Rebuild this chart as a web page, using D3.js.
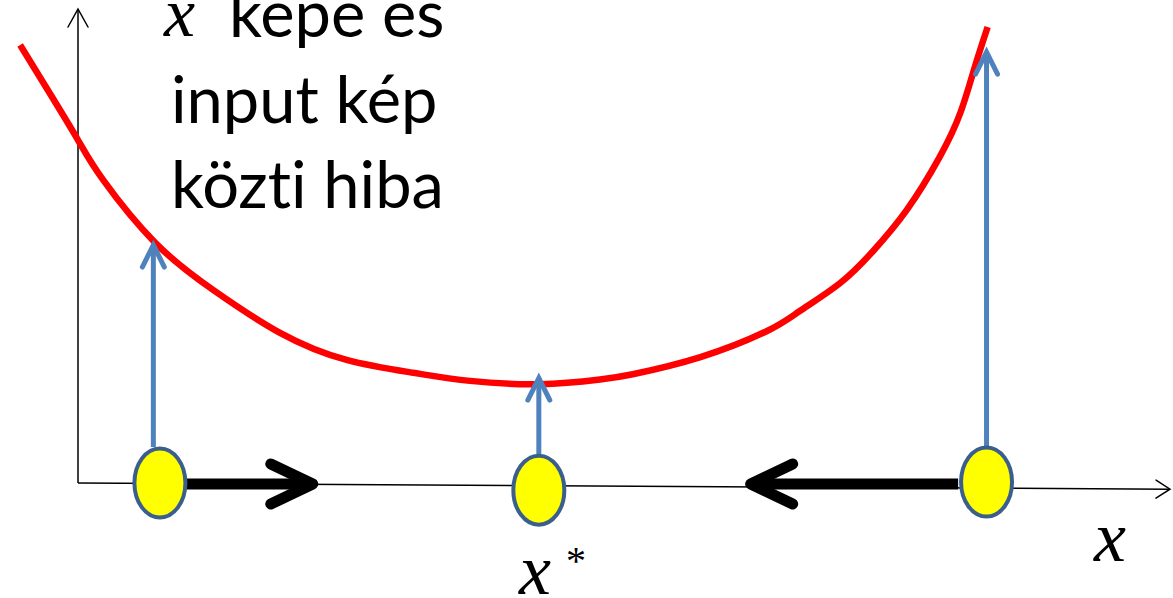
<!DOCTYPE html>
<html lang="hu">
<head>
<meta charset="UTF-8">
<title>hiba</title>
<script src="https://d3js.org/d3.v7.min.js"></script>
<style>
    body { margin: 0; background: #fff; }
    svg { display: block; }
    .lbl { font-variant-ligatures: none; font-feature-settings: "liga" 0; }
</style>
</head>
<body>
<div id="graph"></div>
<script>
// error curve (arbitrary units, x: 0..10 along the axis, y: 0..10 up the axis)
var curveX = [-0.53, -0.26, 0, 0.23, 0.71, 1.24, 1.85, 2.46, 3.07, 3.59, 4.23, 4.78, 5.08, 5.70, 6.31, 6.61, 6.98, 7.28, 7.59, 7.89, 8.08, 8.21, 8.33];
var curveY = [9.22, 8.21, 7.22, 6.38, 5.05, 4.06, 3.16, 2.59, 2.32, 2.15, 2.08, 2.18, 2.29, 2.65, 3.20, 3.62, 4.21, 4.88, 5.75, 6.86, 7.79, 8.74, 9.60];

// the three sample points on the x axis
var pointX = [0.75, 4.22, 8.32];
var pointY = [0, -0.15, 0.02];
// blue arrows: from the point up to the curve
var errX = [0.69, 4.22, 8.32];
var errTop = [5.01, 2.21, 9.07];
// black step arrows along the axis
var stepFrom = [0.98, 8.06];
var stepTo = [2.15, 6.16];

var labelLines = ["képe és", "input kép", "közti hiba"];

var width = 1173, height = 598;
var svg = d3.select("#graph").append("svg")
    .attr("width", width)
    .attr("height", height);

var x = d3.scaleLinear().domain([0, 10]).range([78, 1170]);
var y = d3.scaleLinear().domain([0, 10]).range([483, 8]);

// chevron arrow head, tip at (tx,ty), pointing along angle a
function head(tx, ty, a, len, half) {
    var bx = tx - len * Math.cos(a), by = ty - len * Math.sin(a);
    var nx = -Math.sin(a) * half, ny = Math.cos(a) * half;
    return "M" + (bx + nx) + "," + (by + ny) + "L" + tx + "," + ty + "L" + (bx - nx) + "," + (by - ny);
}

function arrow(x1, y1, x2, y2, color, w, len, half, join) {
    var a = Math.atan2(y2 - y1, x2 - x1);
    svg.append("line")
        .attr("x1", x1).attr("y1", y1).attr("x2", x2).attr("y2", y2)
        .attr("stroke", color).attr("stroke-width", w);
    svg.append("path")
        .attr("d", head(x2, y2, a, len, half))
        .attr("fill", "none").attr("stroke", color).attr("stroke-width", w)
        .attr("stroke-linecap", "round").attr("stroke-linejoin", join || "miter");
}

// axes
arrow(x(0), y(0), x(0), y(10) + 1, "#000", 1.5, 18, 10);
arrow(x(0), y(0), x(10), y(-0.13), "#000", 1.5, 14, 9);

// red curve
var line = d3.line()
    .x(function (d, i) { return x(curveX[i]); })
    .y(function (d, i) { return y(curveY[i]); })
    .curve(d3.curveNatural);
svg.append("path")
    .datum(curveX)
    .attr("d", line)
    .attr("fill", "none")
    .attr("stroke", "#ff0000")
    .attr("stroke-width", 6.5);

// blue arrows
errX.forEach(function (d, i) {
    arrow(x(d), y(pointY[i]) - 36, x(d), y(errTop[i]), "#4f81bd", 5, 22, 11);
});

// black arrows
stepFrom.forEach(function (d, i) {
    arrow(x(d), y(0) + 1, x(stepTo[i]), y(0) + 1, "#000", 11, 42, 20, "round");
});

// yellow points
svg.selectAll("ellipse.pt")
    .data(pointX)
    .enter().append("ellipse")
    .attr("class", "pt")
    .attr("cx", function (d) { return x(d); })
    .attr("cy", function (d, i) { return y(pointY[i]); })
    .attr("rx", 25.5)
    .attr("ry", 34.5)
    .attr("fill", "#ffff00")
    .attr("stroke", "#3b5f8c")
    .attr("stroke-width", 4);

// text
var mathFont = "'Liberation Serif', 'DejaVu Serif', serif";
svg.append("text")
    .attr("x", 164).attr("y", 36)
    .attr("font-family", mathFont).attr("font-style", "italic")
    .attr("font-size", 70)
    .text("x");

svg.selectAll("text.lbl")
    .data(labelLines)
    .enter().append("text")
    .attr("class", "lbl")
    .attr("x", function (d, i) { return i === 0 ? 229 : 171; })
    .attr("y", function (d, i) { return 37 + i * 85.5; })
    .attr("font-family", "Lato, 'Open Sans', sans-serif")
    .attr("font-size", 65)
    .attr("fill", "#000")
    .text(function (d) { return d; });

svg.append("text")
    .attr("x", 1094).attr("y", 561)
    .attr("font-family", mathFont).attr("font-style", "italic")
    .attr("font-size", 72)
    .text("x");

svg.append("text")
    .attr("x", 519).attr("y", 594)
    .attr("font-family", mathFont).attr("font-style", "italic")
    .attr("font-size", 72)
    .text("x");
svg.append("text")
    .attr("x", 566).attr("y", 574)
    .attr("font-family", mathFont)
    .attr("font-size", 40)
    .text("*");
</script>
</body>
</html>
